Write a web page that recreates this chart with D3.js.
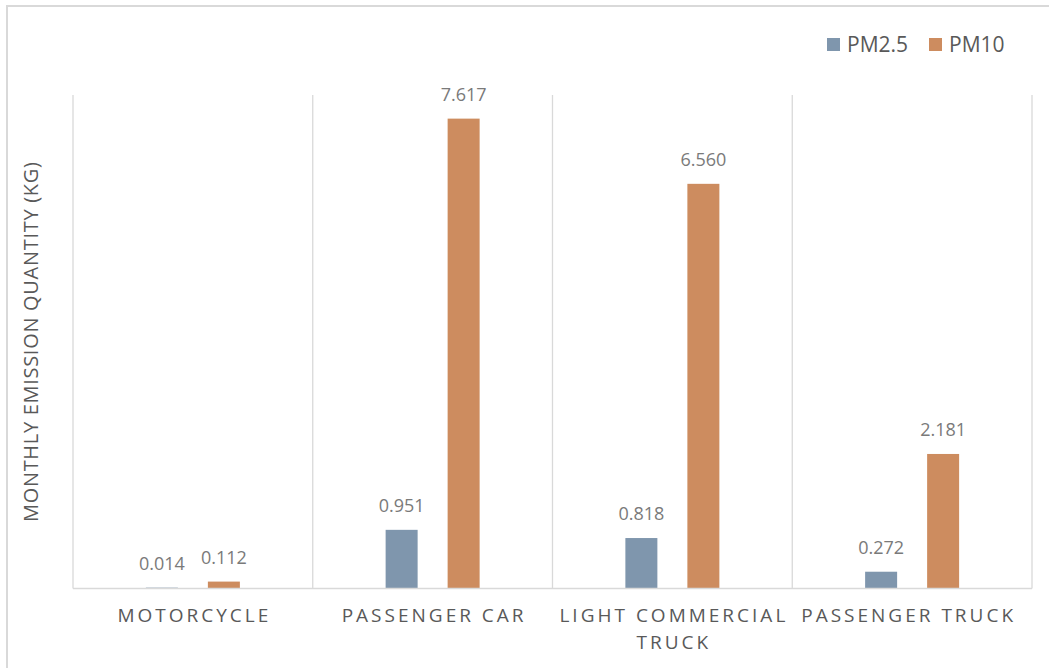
<!DOCTYPE html>
<html>
<head>
<meta charset="utf-8">
<script src="https://cdn.jsdelivr.net/npm/d3@7/dist/d3.min.js"></script>
<style>
  html, body { margin: 0; padding: 0; background: #fff; }
  svg { display: block; }
  text { font-family: "Open Sans", "Noto Sans", sans-serif; }
</style>
</head>
<body>
<svg id="chart" width="1049" height="668"></svg>
<script>
// ---- data ----
const categories = ["MOTORCYCLE", "PASSENGER CAR", "LIGHT COMMERCIAL TRUCK", "PASSENGER TRUCK"];
const categoryLines = [["MOTORCYCLE"], ["PASSENGER CAR"], ["LIGHT COMMERCIAL", "TRUCK"], ["PASSENGER TRUCK"]];
const seriesNames = ["PM2.5", "PM10"];
const pm25 = [0.014, 0.951, 0.818, 0.272];
const pm10 = [0.112, 7.617, 6.560, 2.181];
const yAxisTitle = "MONTHLY EMISSION QUANTITY (KG)";
const yMax = 8;

// ---- layout ----
const W = 1049, H = 668;
const plot = { left: 73, right: 1032, top: 95, bottom: 588.5 };
const colors = { "PM2.5": "#7f96ad", "PM10": "#cd8c5f" };
const gridColor = "#d9d9d9";

const svg = d3.select("#chart");

// outer chart border (only top & left visible in reference)
svg.append("rect")
  .attr("x", 7).attr("y", 6)
  .attr("width", W + 20).attr("height", H + 20)
  .attr("fill", "none").attr("stroke", "#d9d9d9").attr("stroke-width", 2);

const x0 = d3.scaleBand().domain(categories).range([plot.left, plot.right]).padding(0);
const step = 62, bw = 32;
const inner = 2 * step - (step - bw);
const x1 = d3.scaleBand().domain(seriesNames)
  .range([(x0.bandwidth() - inner) / 2, (x0.bandwidth() + inner) / 2])
  .paddingInner((step - bw) / step).paddingOuter(0);
const y = d3.scaleLinear().domain([0, yMax]).range([plot.bottom, plot.top]);

// category separators
const seps = categories.map(c => x0(c)).concat([plot.right]);
svg.append("g").selectAll("line").data(seps).join("line")
  .attr("x1", d => d).attr("x2", d => d)
  .attr("y1", plot.top).attr("y2", plot.bottom)
  .attr("stroke", gridColor).attr("stroke-width", 1.3);

// bars
const rows = categories.map((c, i) => ({ cat: c, values: [
  { s: "PM2.5", v: pm25[i] }, { s: "PM10", v: pm10[i] } ] }));

const groups = svg.append("g").selectAll("g").data(rows).join("g")
  .attr("transform", d => `translate(${x0(d.cat)},0)`);

groups.selectAll("rect").data(d => d.values).join("rect")
  .attr("x", d => x1(d.s))
  .attr("width", x1.bandwidth())
  .attr("y", d => y(d.v))
  .attr("height", d => y(0) - y(d.v))
  .attr("fill", d => colors[d.s]);

groups.selectAll("text").data(d => d.values).join("text")
  .attr("x", d => x1(d.s) + x1.bandwidth() / 2)
  .attr("y", d => y(d.v) - 18)
  .attr("text-anchor", "middle")
  .attr("font-size", 18)
  .attr("fill", "#7a7a7a")
  .text(d => d.v.toFixed(3));

// baseline axis
svg.append("line")
  .attr("x1", plot.left).attr("x2", plot.right)
  .attr("y1", plot.bottom).attr("y2", plot.bottom)
  .attr("stroke", gridColor).attr("stroke-width", 1.5);

// category labels
const catSpacing = 3.0;
categories.forEach((c, i) => {
  const t = svg.append("text")
    .attr("text-anchor", "middle")
    .attr("font-size", 19)
    .attr("letter-spacing", catSpacing)
    .attr("fill", "#595959");
  categoryLines[i].forEach((ln, j) => {
    t.append("tspan")
      .attr("x", x0(c) + x0.bandwidth() / 2 + catSpacing / 2 - (i === 3 ? 5 : 0))
      .attr("y", 622 + j * 27)
      .text(ln);
  });
});

// y axis title
svg.append("text")
  .attr("transform", `translate(38,${(plot.top + plot.bottom) / 2}) rotate(-90)`)
  .attr("text-anchor", "middle")
  .attr("font-size", 20)
  .attr("letter-spacing", 0.7)
  .attr("fill", "#595959")
  .text(yAxisTitle);

// legend
const legendX = [827, 929];
seriesNames.forEach((s, i) => {
  svg.append("rect")
    .attr("x", legendX[i]).attr("y", 38)
    .attr("width", 13).attr("height", 13)
    .attr("fill", colors[s]);
  svg.append("text")
    .attr("x", legendX[i] + 20).attr("y", 52)
    .attr("font-size", 21)
    .attr("fill", "#595959")
    .text(s);
});
</script>
</body>
</html>
